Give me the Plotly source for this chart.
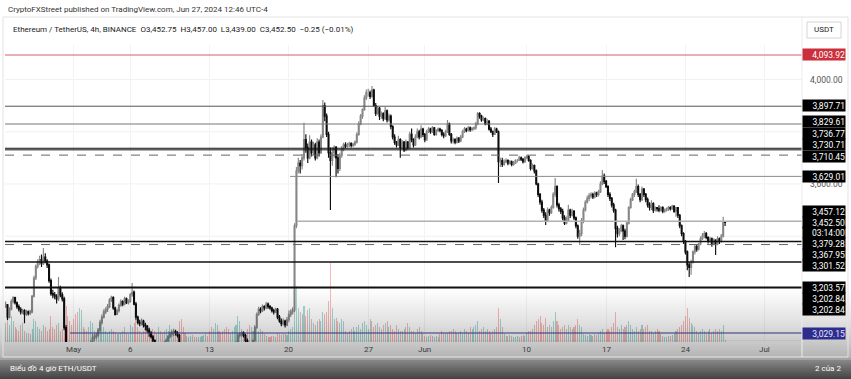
import pandas as pd
import plotly.graph_objects as go

# ---------------- data (ETH/USDT 4h) ----------------
first_open = 3130
close = [
    3137, 3090, 3120, 3150, 3165, 3145,   # Apr 25
    3130, 3120, 3110, 3115, 3100, 3110,   # Apr 26
    3105, 3110, 3170, 3240, 3285, 3300,   # Apr 27
    3310, 3295, 3320, 3305, 3290, 3230,   # Apr 28
    3180, 3175, 3170, 3160, 3200, 3175,   # Apr 29
    3160, 3050, 2980, 2950, 2920, 2900,   # Apr 30
    2880, 2850, 2830, 2900, 2970, 2960,   # May 1
    2950, 2940, 2965, 2990, 3010, 3015,   # May 2
    3020, 3040, 3070, 3090, 3110, 3120,   # May 3
    3130, 3155, 3165, 3125, 3100, 3115,   # May 4
    3135, 3150, 3140, 3160, 3145, 3150,   # May 5
    3175, 3185, 3140, 3090, 3070, 3065,   # May 6
    3075, 3060, 3055, 3040, 3030, 3015,   # May 7
    3000, 2990, 2980, 2985, 2975, 2970,   # May 8
    2990, 3000, 3015, 3025, 3030, 3035,   # May 9
    3030, 3020, 2960, 2920, 2910, 2905,   # May 10
    2910, 2915, 2920, 2910, 2915, 2912,   # May 11
    2920, 2925, 2930, 2935, 2940, 2930,   # May 12
    2910, 2880, 2920, 2950, 2960, 2950,   # May 13
    2940, 2920, 2900, 2890, 2880, 2885,   # May 14
    2900, 2950, 2990, 3020, 3025, 3030,   # May 15
    3020, 3000, 2985, 2960, 2975, 3000,   # May 16
    3050, 3100, 3120, 3115, 3130, 3125,   # May 17
    3140, 3130, 3125, 3115, 3110, 3120,   # May 18
    3090, 3075, 3065, 3075, 3060, 3080,   # May 19
    3100, 3110, 3117, 3440, 3650, 3680,   # May 20
    3670, 3700, 3770, 3740, 3700, 3760,   # May 21
    3720, 3750, 3700, 3760, 3720, 3780,   # May 22
    3900, 3860, 3790, 3720, 3690, 3720,   # May 23
    3740, 3700, 3660, 3710, 3735, 3750,   # May 24
    3745, 3750, 3755, 3748, 3752, 3760,   # May 25
    3790, 3830, 3860, 3885, 3930, 3950,   # May 26
    3950, 3935, 3960, 3900, 3870, 3890,   # May 27
    3860, 3870, 3850, 3880, 3845, 3860,   # May 28
    3820, 3780, 3760, 3750, 3770, 3740,   # May 29
    3760, 3730, 3760, 3740, 3790, 3770,   # May 30
    3750, 3780, 3800, 3780, 3810, 3790,   # May 31
    3770, 3800, 3810, 3800, 3815, 3790,   # Jun 1
    3805, 3810, 3805, 3790, 3785, 3800,   # Jun 2
    3830, 3790, 3765, 3770, 3760, 3775,   # Jun 3
    3765, 3780, 3800, 3810, 3805, 3815,   # Jun 4
    3808, 3812, 3815, 3830, 3870, 3860,   # Jun 5
    3845, 3850, 3830, 3840, 3810, 3800,   # Jun 6
    3790, 3810, 3800, 3685, 3690, 3675,   # Jun 7
    3685, 3690, 3680, 3685, 3675, 3680,   # Jun 8
    3690, 3690, 3700, 3695, 3685, 3700,   # Jun 9
    3705, 3690, 3660, 3670, 3650, 3600,   # Jun 10
    3560, 3531, 3500, 3480, 3460, 3500,   # Jun 11
    3490, 3510, 3560, 3590, 3520, 3505,   # Jun 12
    3495, 3470, 3450, 3460, 3500, 3480,   # Jun 13
    3495, 3470, 3440, 3400, 3410, 3460,   # Jun 14
    3500, 3530, 3545, 3555, 3560, 3550,   # Jun 15
    3565, 3560, 3570, 3600, 3630, 3610,   # Jun 16
    3590, 3560, 3545, 3520, 3500, 3430,   # Jun 17
    3410, 3420, 3440, 3420, 3400, 3450,   # Jun 18
    3510, 3540, 3560, 3570, 3590, 3560,   # Jun 19
    3540, 3580, 3560, 3540, 3520, 3510,   # Jun 20
    3525, 3500, 3510, 3505, 3500, 3510,   # Jun 21
    3495, 3500, 3505, 3510, 3505, 3515,   # Jun 22
    3495, 3510, 3480, 3440, 3410, 3380,   # Jun 23
    3340, 3290, 3280, 3300, 3340, 3360,   # Jun 24
    3350, 3370, 3390, 3400, 3410, 3395,   # Jun 25
    3380, 3390, 3370, 3385, 3370, 3390,   # Jun 26
    3380, 3400, 3452.75, 3452.50,         # Jun 27
]
high = [
    3150, 3140, 3128, 3158, 3170, 3168,
    3150, 3138, 3128, 3122, 3120, 3118,
    3115, 3118, 3175, 3248, 3292, 3312,
    3325, 3330, 3355, 3335, 3312, 3295,
    3238, 3195, 3186, 3178, 3244, 3210,
    3185, 3168, 3060, 2990, 2962, 2935,
    2910, 2895, 2862, 2910, 2985, 2980,
    2972, 2960, 2975, 3000, 3025, 3025,
    3030, 3048, 3080, 3100, 3120, 3128,
    3140, 3162, 3172, 3170, 3130, 3122,
    3142, 3158, 3155, 3168, 3165, 3158,
    3182, 3221, 3192, 3148, 3095, 3080,
    3085, 3080, 3068, 3060, 3048, 3036,
    3022, 3005, 2995, 2992, 2990, 2982,
    2998, 3008, 3022, 3035, 3040, 3045,
    3042, 3036, 3025, 2965, 2930, 2918,
    2918, 2922, 2928, 2925, 2920, 2920,
    2925, 2932, 2938, 2942, 2950, 2945,
    2935, 2915, 2930, 2960, 2985, 2968,
    2955, 2945, 2925, 2905, 2898, 2892,
    2910, 2958, 2998, 3028, 3032, 3036,
    3035, 3026, 3008, 2992, 2982, 3005,
    3058, 3108, 3130, 3128, 3138, 3135,
    3148, 3146, 3136, 3130, 3122, 3126,
    3125, 3098, 3085, 3085, 3080, 3090,
    3115, 3120, 3128, 3450, 3665, 3700,
    3692, 3715, 3834, 3790, 3755, 3787,
    3770, 3762, 3758, 3775, 3770, 3790,
    3922, 3912, 3870, 3800, 3740, 3742,
    3748, 3745, 3715, 3720, 3745, 3758,
    3760, 3758, 3762, 3760, 3758, 3766,
    3798, 3840, 3868, 3890, 3940, 3962,
    3965, 3958, 3975, 3965, 3910, 3900,
    3895, 3878, 3875, 3895, 3885, 3870,
    3866, 3825, 3790, 3765, 3785, 3775,
    3768, 3765, 3770, 3765, 3800, 3812,
    3775, 3790, 3812, 3808, 3825, 3815,
    3795, 3808, 3818, 3815, 3822, 3818,
    3810, 3816, 3815, 3810, 3798, 3808,
    3845, 3835, 3795, 3778, 3775, 3782,
    3780, 3788, 3808, 3818, 3815, 3822,
    3820, 3818, 3820, 3838, 3876, 3875,
    3865, 3858, 3855, 3850, 3845, 3818,
    3805, 3818, 3815, 3805, 3700, 3700,
    3695, 3698, 3695, 3692, 3690, 3688,
    3695, 3696, 3708, 3705, 3698, 3706,
    3712, 3710, 3695, 3678, 3675, 3655,
    3605, 3565, 3540, 3508, 3492, 3510,
    3505, 3518, 3568, 3623, 3595, 3528,
    3512, 3505, 3480, 3475, 3520, 3505,
    3505, 3500, 3475, 3445, 3425, 3470,
    3510, 3538, 3556, 3565, 3568, 3566,
    3572, 3570, 3578, 3610, 3653, 3640,
    3615, 3595, 3568, 3550, 3528, 3505,
    3440, 3430, 3448, 3445, 3428, 3455,
    3515, 3548, 3565, 3578, 3620, 3598,
    3565, 3590, 3585, 3565, 3548, 3530,
    3538, 3530, 3515, 3512, 3518, 3515,
    3515, 3506, 3510, 3516, 3515, 3520,
    3518, 3512, 3512, 3485, 3445, 3415,
    3385, 3345, 3300, 3310, 3345, 3368,
    3366, 3375, 3400, 3412, 3420, 3416,
    3400, 3398, 3395, 3392, 3388, 3400,
    3395, 3408, 3474, 3457.00,
]
low = [
    3125, 3079, 3085, 3115, 3142, 3138,
    3122, 3112, 3100, 3102, 3067, 3095,
    3096, 3098, 3105, 3165, 3232, 3276,
    3290, 3282, 3290, 3296, 3278, 3222,
    3172, 3162, 3158, 3142, 3152, 3166,
    3150, 3040, 2970, 2930, 2905, 2882,
    2862, 2832, 2810, 2826, 2890, 2946,
    2935, 2925, 2935, 2955, 2985, 2998,
    3005, 3012, 3032, 3062, 3085, 3102,
    3110, 3125, 3148, 3118, 3096, 3098,
    3108, 3130, 3132, 3135, 3140, 3138,
    3145, 3168, 3135, 3080, 3062, 3055,
    3058, 3050, 3040, 3030, 3015, 3008,
    2990, 2980, 2970, 2972, 2965, 2955,
    2965, 2982, 2995, 3008, 3015, 3018,
    3020, 3012, 2955, 2900, 2895, 2890,
    2898, 2902, 2908, 2900, 2905, 2905,
    2905, 2912, 2918, 2922, 2928, 2920,
    2895, 2870, 2875, 2912, 2940, 2940,
    2930, 2910, 2890, 2875, 2865, 2870,
    2878, 2895, 2940, 2982, 3012, 3015,
    3012, 2995, 2978, 2950, 2955, 2970,
    2995, 3045, 3095, 3105, 3110, 3115,
    3120, 3122, 3118, 3108, 3100, 3106,
    3082, 3068, 3055, 3058, 3050, 3055,
    3070, 3090, 3100, 3110, 3430, 3640,
    3640, 3655, 3690, 3720, 3680, 3695,
    3705, 3710, 3690, 3695, 3705, 3715,
    3775, 3840, 3780, 3700, 3500, 3670,
    3700, 3626, 3640, 3650, 3700, 3725,
    3738, 3740, 3742, 3740, 3742, 3745,
    3755, 3785, 3825, 3850, 3880, 3922,
    3935, 3925, 3930, 3895, 3860, 3865,
    3845, 3850, 3840, 3845, 3835, 3838,
    3810, 3770, 3750, 3740, 3745, 3700,
    3735, 3722, 3725, 3732, 3735, 3760,
    3740, 3745, 3775, 3770, 3775, 3780,
    3760, 3765, 3795, 3792, 3795, 3785,
    3785, 3798, 3798, 3782, 3775, 3780,
    3795, 3785, 3755, 3755, 3752, 3755,
    3757, 3760, 3775, 3795, 3798, 3800,
    3800, 3802, 3806, 3808, 3825, 3850,
    3838, 3840, 3825, 3825, 3805, 3795,
    3780, 3788, 3795, 3604, 3665, 3665,
    3670, 3680, 3672, 3675, 3668, 3670,
    3676, 3682, 3688, 3688, 3678, 3680,
    3695, 3685, 3652, 3655, 3640, 3595,
    3550, 3520, 3490, 3470, 3443, 3455,
    3478, 3485, 3505, 3550, 3510, 3495,
    3485, 3460, 3443, 3445, 3455, 3470,
    3475, 3462, 3430, 3390, 3366, 3400,
    3450, 3495, 3525, 3535, 3545, 3542,
    3545, 3550, 3552, 3565, 3595, 3600,
    3585, 3550, 3535, 3510, 3490, 3358,
    3395, 3400, 3415, 3385, 3388, 3395,
    3445, 3505, 3535, 3550, 3565, 3550,
    3530, 3535, 3550, 3530, 3510, 3498,
    3500, 3489, 3495, 3495, 3492, 3495,
    3488, 3490, 3495, 3496, 3498, 3500,
    3490, 3474, 3470, 3430, 3400, 3370,
    3330, 3270, 3244, 3252, 3295, 3330,
    3340, 3345, 3365, 3385, 3392, 3388,
    3372, 3375, 3360, 3365, 3328, 3365,
    3370, 3375, 3395, 3439.00,
]
volume = [
    50, 60, 45, 70, 55, 40,
    35, 30, 45, 50, 30, 25,
    25, 20, 35, 60, 55, 40,
    35, 30, 45, 40, 30, 35,
    70, 40, 35, 45, 50, 30,
    35, 60, 95, 70, 55, 45,
    60, 75, 80, 90, 85, 40,
    35, 30, 40, 55, 50, 30,
    25, 30, 45, 50, 40, 30,
    25, 30, 35, 30, 25, 20,
    20, 25, 30, 40, 25, 20,
    45, 40, 50, 60, 40, 30,
    25, 30, 35, 45, 40, 30,
    35, 30, 25, 40, 30, 25,
    30, 35, 30, 45, 35, 25,
    25, 30, 55, 60, 40, 25,
    15, 12, 15, 18, 14, 12,
    12, 14, 15, 18, 20, 15,
    30, 40, 35, 50, 45, 30,
    25, 30, 35, 40, 35, 25,
    30, 40, 45, 70, 55, 35,
    30, 25, 35, 45, 40, 30,
    45, 40, 30, 35, 30, 20,
    15, 12, 14, 16, 15, 12,
    25, 20, 18, 22, 20, 18,
    30, 35, 40, 190, 150, 90,
    80, 75, 95, 70, 85, 90,
    60, 50, 45, 55, 60, 55,
    80, 75, 80, 110, 210, 90,
    60, 65, 55, 50, 60, 55,
    30, 25, 30, 35, 40, 30,
    40, 45, 35, 50, 55, 45,
    35, 60, 55, 40, 45, 50,
    40, 35, 45, 50, 55, 40,
    45, 35, 30, 45, 35, 30,
    30, 35, 40, 50, 40, 30,
    30, 25, 35, 40, 30, 25,
    15, 12, 15, 18, 15, 12,
    15, 14, 20, 30, 25, 25,
    25, 30, 30, 35, 30, 25,
    25, 30, 25, 35, 30, 25,
    40, 35, 40, 45, 55, 30,
    35, 40, 30, 35, 30, 25,
    30, 35, 40, 90, 60, 40,
    20, 15, 15, 18, 15, 12,
    12, 15, 14, 15, 18, 15,
    25, 30, 28, 35, 45, 55,
    60, 70, 50, 45, 65, 40,
    45, 40, 55, 80, 55, 45,
    35, 40, 45, 35, 45, 40,
    35, 40, 45, 60, 45, 40,
    20, 18, 15, 20, 18, 15,
    20, 18, 25, 30, 35, 25,
    30, 35, 30, 40, 50, 80,
    40, 35, 45, 35, 40, 45,
    55, 45, 35, 30, 40, 30,
    35, 45, 35, 40, 45, 30,
    30, 25, 30, 35, 30, 20,
    15, 12, 14, 15, 16, 18,
    25, 30, 35, 40, 45, 55,
    70, 90, 65, 50, 45, 40,
    30, 25, 30, 35, 30, 25,
    30, 35, 25, 30, 35, 30,
    35, 30, 45, 5,
]

levels = [4093.92, 3897.71, 3829.61, 3736.77, 3730.71, 3710.45, 3629.01,
          3457.12, 3379.28, 3367.95, 3301.52, 3203.57, 3029.15]
label_texts = ["4,093.92", "3,897.71", "3,829.61", "3,736.77", "3,730.71", "3,710.45",
               "3,629.01", "3,457.12", "3,452.50", "03:14:00", "3,379.28", "3,367.95",
               "3,301.52", "3,203.57", "3,202.84", "3,202.84", "3,029.15"]
tick_dates = ["2024-05-01", "2024-05-06", "2024-05-13", "2024-05-20", "2024-05-27",
              "2024-06-01", "2024-06-10", "2024-06-17", "2024-06-24", "2024-07-01"]
tick_text = ["May", "6", "13", "20", "27", "Jun", "10", "17", "24", "Jul"]
price_ticks = [3000, 3200, 3400, 3600, 3800, 4000]

# ---------------- layout geometry (pixels) ----------------
W, H = 851, 379
PL, PR, PT, PB = 5, 802, 45, 342
PX_PER_DAY, MAY1_PX = 11.33, 73.6
Y_TOP_PX, Y_TOP_VAL, PX_PER_USD = 55, 4093.92, 0.2611


def px_x(px):
    return (px - PL) / (PR - PL)


def px_y(py):
    return (PB - py) / (PB - PT)


FONT = "Roboto, Liberation Sans, sans-serif"

t = pd.date_range("2024-04-25 00:00", periods=len(close), freq="4h")
opens = [first_open] + close[:-1]
hi = [max(h, o, c) for h, o, c in zip(high, opens, close)]
lo = [min(l, o, c) for l, o, c in zip(low, opens, close)]
vol_colors = ["rgba(38,166,154,0.4)" if c >= o else "rgba(239,83,80,0.4)"
              for o, c in zip(opens, close)]

may1 = pd.Timestamp("2024-05-01")
x_start = may1 + pd.Timedelta(days=(PL - MAY1_PX) / PX_PER_DAY)
x_end = may1 + pd.Timedelta(days=(PR - MAY1_PX) / PX_PER_DAY)
y_hi = Y_TOP_VAL + (Y_TOP_PX - PT) / PX_PER_USD
y_lo = Y_TOP_VAL - (PB - Y_TOP_PX) / PX_PER_USD

fig = go.Figure()
fig.add_trace(go.Bar(x=t, y=volume, marker_color=vol_colors, marker_line_width=0,
                     width=4 * 3600 * 1000 * 0.55, yaxis="y", hoverinfo="skip",
                     showlegend=False))
fig.add_trace(go.Candlestick(
    x=t, open=opens, high=hi, low=lo, close=close, yaxis="y2",
    increasing=dict(line=dict(color="#868686", width=1.15), fillcolor="#969696"),
    decreasing=dict(line=dict(color="#0d0d0d", width=1.15), fillcolor="#0d0d0d"),
    whiskerwidth=0, showlegend=False, hoverinfo="skip"))

shapes = []
for p in price_ticks:
    shapes.append(dict(type="line", xref="paper", yref="y2", x0=0, x1=1, y0=p, y1=p,
                       line=dict(color="#f1f1f1", width=1), layer="below"))

# horizontal level lines: (start px, colour, width, dash)
level_styles = [
    (5, "#d0606a", 1, "solid"),
    (5, "#555555", 1, "solid"),
    (5, "#777777", 1, "solid"),
    (5, "#111111", 1, "solid"),
    (5, "#111111", 1, "solid"),
    (5, "#666666", 1, "dash"),
    (290, "#8a8a8a", 1, "solid"),
    (297, "#b0b0b0", 1.5, "solid"),
    (5, "#111111", 1.5, "solid"),
    (5, "#666666", 1, "dash"),
    (5, "#111111", 1.5, "solid"),
    (5, "#111111", 2, "solid"),
    (70, "#3c3c92", 1, "solid"),
]
for lv, (sx, col, lw, dash) in zip(levels, level_styles):
    shapes.append(dict(type="line", xref="paper", yref="y2", x0=px_x(sx), x1=1,
                       y0=lv, y1=lv, line=dict(color=col, width=lw, dash=dash),
                       layer="above"))

# bottom fade / footer gradient
stops = [(288, 0.0), (300, 0.04), (320, 0.11), (342, 0.21), (358, 0.30), (361, 0.48), (379, 0.74)]


def shade(py):
    for (a, va), (b, vb) in zip(stops[:-1], stops[1:]):
        if a <= py <= b:
            return va + (vb - va) * (py - a) / (b - a)
    return 0.0


py = 288
while py < 379:
    a = shade(py + 1)
    shapes.append(dict(type="rect", xref="paper", yref="paper",
                       x0=px_x(0), x1=px_x(W), y0=px_y(py + 2), y1=px_y(py),
                       fillcolor=f"rgba(0,0,0,{a:.3f})", line=dict(width=0),
                       layer="above"))
    py += 2

shapes.append(dict(type="rect", xref="paper", yref="paper", x0=px_x(3), x1=px_x(848),
                   y0=px_y(357), y1=px_y(17), line=dict(color="#e2e2e2", width=1),
                   fillcolor="rgba(0,0,0,0)", layer="above"))
shapes.append(dict(type="line", xref="paper", yref="paper", x0=px_x(PR), x1=px_x(PR),
                   y0=px_y(357), y1=px_y(17), line=dict(color="#ececec", width=1),
                   layer="above"))
shapes.append(dict(type="rect", xref="paper", yref="paper", x0=px_x(807), x1=px_x(841),
                   y0=px_y(38), y1=px_y(22), line=dict(color="#d4d4d4", width=1),
                   fillcolor="white", layer="above"))

ann = []
ann.append(dict(text="CryptoFXStreet published on TradingView.com, Jun 27, 2024 12:46 UTC-4",
                x=px_x(6), y=px_y(9), xref="paper", yref="paper", xanchor="left",
                yanchor="middle", showarrow=False, font=dict(family=FONT, size=8, color="#333")))
ann.append(dict(text="Ethereum / TetherUS, 4h, BINANCE  O3,452.75  H3,457.00  L3,439.00  C3,452.50  −0.25 (−0.01%)",
                x=px_x(11), y=px_y(29), xref="paper", yref="paper", xanchor="left",
                yanchor="middle", showarrow=False, font=dict(family=FONT, size=8, color="#222")))
ann.append(dict(text="USDT", x=px_x(824), y=px_y(30), xref="paper", yref="paper",
                xanchor="center", yanchor="middle", showarrow=False,
                font=dict(family=FONT, size=8, color="#222")))

for txt, val in (("4,000.00", 4000), ("3,600.00", 3600)):
    ann.append(dict(text=txt, x=px_x(845), y=val, xref="paper", yref="y2",
                    xanchor="right", yanchor="middle", showarrow=False,
                    font=dict(family=FONT, size=8.5, color="#555")))

# price-axis labels: centre pixel, background, text colour
label_styles = [
    (55, "#cc2f3c", "white"), (106, "black", "white"), (121.5, "black", "white"),
    (133, "black", "white"), (144.5, "black", "white"), (156, "black", "white"),
    (176.5, "black", "white"), (211, "black", "white"), (222, "black", "white"),
    (232.5, "black", "white"), (243.5, "black", "white"), (254.5, "black", "white"),
    (265.5, "black", "white"), (287.5, "black", "white"), (298.5, "black", "white"),
    (309.5, "black", "white"), (333, "#2d2d8e", "#e8e8ff"),
]
for txt, (cy, bg, fg) in zip(label_texts, label_styles):
    ann.append(dict(text=txt, x=px_x(802), y=px_y(cy), xref="paper", yref="paper",
                    xanchor="left", yanchor="middle", showarrow=False, align="right",
                    width=42, height=11, borderpad=0, bgcolor=bg,
                    font=dict(family=FONT, size=8.5, color=fg)))

for d, txt in zip(tick_dates, tick_text):
    ann.append(dict(text=txt, x=d, y=px_y(349), xref="x", yref="paper",
                    xanchor="center", yanchor="middle", showarrow=False,
                    font=dict(family=FONT, size=8, color="#3a3a3a")))

ann.append(dict(text="Biểu đồ 4 giờ ETH/USDT", x=px_x(8), y=px_y(368), xref="paper",
                yref="paper", xanchor="left", yanchor="middle", showarrow=False,
                font=dict(family=FONT, size=8, color="white")))
ann.append(dict(text="2 của 2", x=px_x(843), y=px_y(368), xref="paper", yref="paper",
                xanchor="right", yanchor="middle", showarrow=False,
                font=dict(family=FONT, size=8, color="white")))

fig.update_layout(
    width=W, height=H, autosize=False,
    margin=dict(l=PL, r=W - PR, t=PT, b=H - PB, pad=0),
    paper_bgcolor="white", plot_bgcolor="white",
    showlegend=False, bargap=0,
    xaxis=dict(type="date", range=[x_start, x_end], showticklabels=False,
               tickvals=tick_dates, showgrid=True, gridcolor="#f3f3f3",
               zeroline=False, showline=False, rangeslider=dict(visible=False),
               fixedrange=True),
    yaxis=dict(range=[0, 790], visible=False, fixedrange=True),
    yaxis2=dict(range=[y_lo, y_hi], overlaying="y", side="right", showticklabels=False,
                showgrid=False, zeroline=False, showline=False, fixedrange=True),
    shapes=shapes, annotations=ann,
)

fig.write_html("out.html", config={"displayModeBar": False},
               post_script="document.body.style.margin='0';document.body.style.overflow='hidden';")
